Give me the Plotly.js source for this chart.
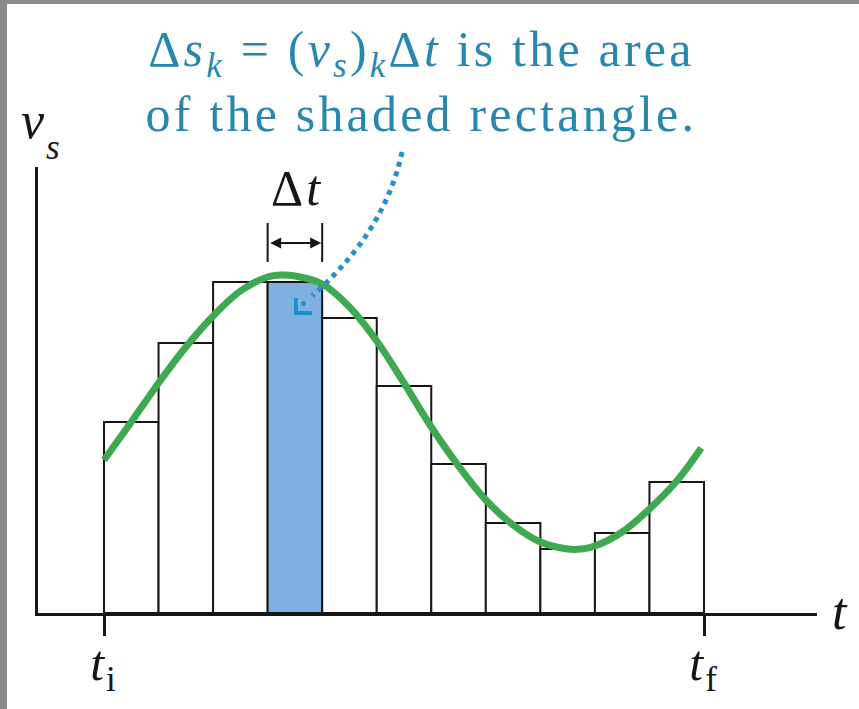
<!DOCTYPE html>
<html>
<head>
<meta charset="utf-8">
<script src="https://cdn.plot.ly/plotly-3.0.1.min.js"></script>
<style>
  html, body { margin: 0; padding: 0; background: #ffffff; }
  #chart { width: 859px; height: 709px; }
  /* the reference lettering is set wide */
  #chart g.annotation[data-index="0"] .annotation-text { letter-spacing: 3.2px; }
  #chart g.annotation[data-index="3"] .annotation-text { letter-spacing: 3px; }
  #chart .xtick text { letter-spacing: 2px; }
</style>
</head>
<body>
<div id="chart"></div>
<script>
// ---- data ----
var barMid = [0.5, 1.5, 2.5, 3.5, 4.5, 5.5, 6.5, 7.5, 8.5, 9.5, 10.5];
var barHeight = [191, 270, 331, 331, 295, 227, 149, 90, 64, 80, 131];
var shadedIndex = 3;
var curveT = [0, 0.5, 1, 1.5, 2, 2.5, 3, 3.25, 3.5, 4, 4.5, 5, 5.5, 6, 6.5, 7, 7.5, 8, 8.5, 8.75, 9, 9.5, 10, 10.5, 10.95];
var curveV = [153, 191, 230, 266, 297, 322, 336, 338, 337, 329, 306, 272, 230, 186, 147, 113, 88, 71, 64, 64, 67, 81, 104, 132, 165];
var tickVals = [0, 11];
var tickText = ['<i>t</i><sub>i</sub>', '<i>t</i><sub>f</sub>'];

// ---- geometry helpers (pixels -> paper) ----
var W = 859, H = 709, L = 38, R = 817, T = 167, B = 613;
function fx(p) { return (p - L) / (R - L); }
function fy(p) { return (B - p) / (B - T); }
var pxPerT = (704 - 104) / 11;
var xr = [(L - 104) / pxPerT, (R - 104) / pxPerT];

var serif = "'Liberation Serif'";
var ink = '#161616';
var teal = '#2787af';

var barColors = barMid.map(function (_, i) { return i === shadedIndex ? '#7eb1df' : '#ffffff'; });

var traces = [
  {
    type: 'bar', x: barMid, y: barHeight, width: 1,
    marker: { color: barColors, line: { color: ink, width: 2 } },
    hoverinfo: 'skip'
  },
  {
    type: 'scatter', mode: 'lines', x: curveT, y: curveV,
    line: { color: '#3ea950', width: 7, shape: 'spline', smoothing: 1 },
    hoverinfo: 'skip'
  }
];

function pp(x, y) { return fx(x).toFixed(4) + ',' + fy(y).toFixed(4); }

var layout = {
  width: W, height: H,
  margin: { l: L, r: W - R, t: T, b: H - B, pad: 0 },
  paper_bgcolor: '#ffffff', plot_bgcolor: '#ffffff',
  showlegend: false,
  bargap: 0,
  font: { family: serif },
  xaxis: {
    range: xr, showgrid: false, zeroline: false,
    showline: true, linecolor: ink, linewidth: 3,
    tickmode: 'array', tickvals: tickVals, ticktext: tickText,
    ticks: 'outside', ticklen: 20, tickwidth: 3, tickcolor: ink,
    ticklabelstandoff: -16,
    tickfont: { family: serif, size: 50, color: ink },
    fixedrange: true
  },
  yaxis: {
    range: [0, B - T], showgrid: false, zeroline: false,
    showline: true, linecolor: ink, linewidth: 3,
    showticklabels: false, ticks: '', fixedrange: true
  },
  annotations: [
    {
      xref: 'paper', yref: 'paper', x: fx(421), y: fy(81), xanchor: 'center', yanchor: 'middle',
      text: 'Δ<i>s</i><sub><i>k</i></sub> = (<i>v</i><sub><i>s</i></sub>)<sub><i>k</i></sub>Δ<i>t</i> is the area<br>of the shaded rectangle.',
      showarrow: false, align: 'center',
      font: { family: serif, size: 50, color: teal }
    },
    {
      xref: 'paper', yref: 'paper', x: fx(47), y: fy(121), xanchor: 'right', yanchor: 'middle',
      text: '<i>v</i>', showarrow: false,
      font: { family: serif, size: 52, color: ink }
    },
    {
      xref: 'paper', yref: 'paper', x: fx(44), y: fy(147), xanchor: 'left', yanchor: 'middle',
      text: '<i>s</i>', showarrow: false,
      font: { family: serif, size: 35, color: ink }
    },
    {
      xref: 'paper', yref: 'paper', x: fx(297), y: fy(188), xanchor: 'center', yanchor: 'middle',
      text: 'Δ<i>t</i>', showarrow: false,
      font: { family: serif, size: 50, color: ink }
    },
    {
      xref: 'paper', yref: 'paper', x: fx(840), y: fy(611), xanchor: 'center', yanchor: 'middle',
      text: '<i>t</i>', showarrow: false,
      font: { family: serif, size: 52, color: ink }
    },
    {
      xref: 'x', yref: 'y', axref: 'x', ayref: 'y',
      x: 4, y: B - 243, ax: 3, ay: B - 243,
      text: '', showarrow: true, arrowside: 'end+start',
      arrowhead: 2, startarrowhead: 2, arrowsize: 1.1, startarrowsize: 1.1, arrowwidth: 2,
      arrowcolor: ink, standoff: 1, startstandoff: 1
    }
  ],
  shapes: [
    { type: 'line', xref: 'x', yref: 'y', x0: 3, x1: 3, y0: B - 223, y1: B - 262, line: { color: ink, width: 2 } },
    { type: 'line', xref: 'x', yref: 'y', x0: 4, x1: 4, y0: B - 223, y1: B - 262, line: { color: ink, width: 2 } },
    { type: 'path', xref: 'paper', yref: 'paper', layer: 'above',
      path: 'M ' + pp(402, 152) + ' Q ' + pp(385, 232) + ' ' + pp(312, 296),
      line: { color: '#2b8fc4', width: 5, dash: 'dot' } },
    { type: 'path', xref: 'paper', yref: 'paper', layer: 'above',
      path: 'M ' + pp(296, 298) + ' L ' + pp(296, 313) + ' L ' + pp(312, 313),
      line: { color: '#1f8fd2', width: 4 } },
    { type: 'circle', xref: 'paper', yref: 'paper', layer: 'above',
      x0: fx(301), x1: fx(306), y0: fy(301), y1: fy(306),
      fillcolor: '#1f8fd2', line: { width: 0 } },
    { type: 'rect', xref: 'paper', yref: 'paper', layer: 'above',
      x0: fx(0), x1: fx(7), y0: fy(H), y1: fy(0), fillcolor: '#8a8a8a', line: { width: 0 } },
    { type: 'rect', xref: 'paper', yref: 'paper', layer: 'above',
      x0: fx(0), x1: fx(W), y0: fy(4), y1: fy(0), fillcolor: '#8a8a8a', line: { width: 0 } }
  ]
};

Plotly.newPlot('chart', traces, layout, { displayModeBar: false, staticPlot: true });
</script>
</body>
</html>
